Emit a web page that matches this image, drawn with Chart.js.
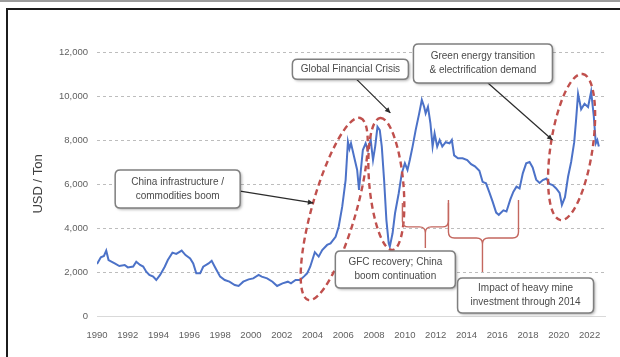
<!DOCTYPE html>
<html>
<head>
<meta charset="utf-8">
<script src="https://cdn.jsdelivr.net/npm/chart.js@4.4.1/dist/chart.umd.min.js"></script>
<style>
  html, body { margin: 0; padding: 0; background: #fff; }
  #wrap { position: relative; width: 620px; height: 357px; overflow: hidden; }
  #topRule { position: absolute; left: 0; top: 0; width: 620px; height: 2px; background: #9c9c9c; }
  #frame { position: absolute; left: 6px; top: 8px; width: 640px; height: 400px;
           border-left: 2px solid #1c1c1c; border-top: 2px solid #1c1c1c; }
  #priceChart { position: absolute; left: 0; top: 0; }
</style>
</head>
<body>
<div id="wrap">
  <div id="topRule"></div>
  <div id="frame"></div>
  <canvas id="priceChart" width="620" height="357"></canvas>
</div>
<script>
const xTickYears = [1990, 1992, 1994, 1996, 1998, 2000, 2002, 2004, 2006, 2008, 2010, 2012, 2014, 2016, 2018, 2020, 2022];
const yTickValues = [0, 2000, 4000, 6000, 8000, 10000, 12000];

// copper price, USD per ton
const priceYears = [
  1990.00, 1990.25, 1990.45, 1990.60, 1990.75, 1991.15, 1991.45, 1991.80, 1992.00, 1992.35,
  1992.55, 1992.80, 1993.00, 1993.20, 1993.40, 1993.65, 1993.85, 1994.10, 1994.40, 1994.60,
  1994.90, 1995.15, 1995.50, 1995.75, 1996.05, 1996.25, 1996.45, 1996.70, 1996.90, 1997.25,
  1997.45, 1997.65, 1998.00, 1998.30, 1998.60, 1998.95, 1999.20, 1999.50, 1999.85, 2000.15,
  2000.50, 2000.70, 2001.05, 2001.40, 2001.70, 2002.05, 2002.40, 2002.60, 2002.90, 2003.20,
  2003.45, 2003.65, 2003.85, 2004.15, 2004.40, 2004.63, 2004.95, 2005.17, 2005.50, 2005.70,
  2005.93, 2006.15, 2006.30, 2006.40, 2006.50, 2006.70, 2006.90, 2007.02, 2007.12, 2007.27,
  2007.45, 2007.60, 2007.78, 2007.93, 2008.07, 2008.22, 2008.37, 2008.50, 2008.65, 2008.80,
  2008.95, 2009.02, 2009.20, 2009.36, 2009.60, 2009.80, 2010.00, 2010.17, 2010.32, 2010.50,
  2010.70, 2010.93, 2011.10, 2011.25, 2011.35, 2011.50, 2011.66, 2011.80, 2011.93, 2012.10,
  2012.26, 2012.43, 2012.65, 2012.90, 2013.05, 2013.20, 2013.45, 2013.75, 2014.05, 2014.30,
  2014.55, 2014.84, 2015.05, 2015.27, 2015.50, 2015.70, 2015.93, 2016.10, 2016.40, 2016.60,
  2016.85, 2017.05, 2017.25, 2017.45, 2017.66, 2017.88, 2018.10, 2018.30, 2018.53, 2018.75,
  2018.96, 2019.20, 2019.40, 2019.60, 2019.83, 2020.05, 2020.20, 2020.40, 2020.60, 2020.80,
  2021.00, 2021.12, 2021.25, 2021.45, 2021.67, 2021.90, 2022.10, 2022.27, 2022.40, 2022.50,
  2022.60
];
const copperPrices = [
  2360, 2670, 2730, 2970, 2545, 2390, 2270, 2320, 2210, 2250,
  2470, 2320, 2250, 2015, 1865, 1790, 1635, 1865, 2240, 2545,
  2880, 2820, 2970, 2770, 2620, 2390, 1940, 1940, 2240, 2390,
  2510, 2240, 1790, 1635, 1560, 1410, 1365, 1560, 1665, 1710,
  1865, 1790, 1710, 1560, 1365, 1485, 1560, 1485, 1635, 1635,
  1800, 1940, 2240, 2900, 2700, 3000, 3230, 3300, 3600, 4060,
  4970, 6180, 7920, 7600, 7850, 7240, 6640, 5730, 6485, 7545,
  7850, 7545, 8000, 7090, 7700, 8600, 8450, 7700, 6180, 4360,
  3300, 3150, 3760, 4670, 5580, 6485, 6940, 6640, 7090, 7700,
  8450, 9210, 9820, 9510, 9210, 9510, 8760, 7700, 8300, 7700,
  8000, 7700, 7900, 7850, 8000, 7300, 7170, 7170, 7090, 6900,
  6800, 6600, 6100, 6030, 5600, 5200, 4700, 4600, 4800, 4750,
  5300, 5650, 5880, 5800, 6485, 6940, 7000, 6750, 6200, 6050,
  6180, 6250, 6000, 5950, 5800, 5600, 5050, 5400, 6330, 7000,
  7900, 8900, 10100, 9400, 9650, 9500, 10200, 9100, 7850, 8000,
  7700
];

// callout boxes: centre in [year, USD], size in px, optional arrow tip in [year, USD]
const calloutBoxes = [
  { lines: ['China infrastructure /', 'commodities boom'], at: [1995.24, 5770], w: 125, h: 38,
    from: 'right', tip: [2004.05, 5140] },
  { lines: ['Global Financial Crisis'], at: [2006.46, 11220], w: 116, h: 20,
    from: 'bottom', fromDx: 6, tip: [2009.06, 9230] },
  { lines: ['Green energy transition', '& electrification demand'], at: [2015.07, 11480], w: 139, h: 39,
    from: 'bottom', fromDx: 5, tip: [2019.59, 8000] },
  { lines: ['GFC recovery; China', 'boom continuation'], at: [2009.38, 2110], w: 120, h: 37 },
  { lines: ['Impact of heavy mine', 'investment through 2014'], at: [2017.84, 930], w: 136, h: 35 }
];

// dashed rings: both ends of the long axis in [year, USD], half width in px
const dashedRings = [
  { ends: [[2003.72, 730], [2007.10, 9000]], half: 22 },
  { ends: [[2009.19, 3000], [2008.40, 9000]], half: 17 },
  { ends: [[2020.11, 4360], [2021.55, 11000]], half: 21 }
];

// curly braces under the 2010-2017 stretch
const braces = [
  { from: 2009.84, to: 2012.83, top: 5140, mid: 4050, tipAt: 2011.33, tip: 3090 },
  { from: 2012.83, to: 2017.38, top: 5270, mid: 3545, tipAt: 2015.04, tip: 2000 }
];

const FONT = "'Liberation Sans', Arial, sans-serif";

function roundRect(ctx, x, y, w, h, r) {
  ctx.beginPath();
  ctx.moveTo(x + r, y);
  ctx.lineTo(x + w - r, y);
  ctx.quadraticCurveTo(x + w, y, x + w, y + r);
  ctx.lineTo(x + w, y + h - r);
  ctx.quadraticCurveTo(x + w, y + h, x + w - r, y + h);
  ctx.lineTo(x + r, y + h);
  ctx.quadraticCurveTo(x, y + h, x, y + h - r);
  ctx.lineTo(x, y + r);
  ctx.quadraticCurveTo(x, y, x + r, y);
  ctx.closePath();
}

const notesPlugin = {
  id: 'notes',
  afterDatasetsDraw(chart) {
    const { ctx, scales: { x, y } } = chart;
    const px = (p) => [x.getPixelForValue(p[0]), y.getPixelForValue(p[1])];

    ctx.save();

    // red dashed rings
    ctx.strokeStyle = '#c0504d';
    ctx.lineWidth = 2.4;
    ctx.setLineDash([6, 4]);
    dashedRings.forEach(r => {
      const [x1, y1] = px(r.ends[0]);
      const [x2, y2] = px(r.ends[1]);
      const len = Math.hypot(x2 - x1, y2 - y1) / 2;
      ctx.beginPath();
      ctx.ellipse((x1 + x2) / 2, (y1 + y2) / 2, len, r.half, Math.atan2(y2 - y1, x2 - x1), 0, Math.PI * 2);
      ctx.stroke();
    });
    ctx.setLineDash([]);

    // braces
    ctx.strokeStyle = '#c4675f';
    ctx.lineWidth = 1.4;
    braces.forEach(b => {
      const x0 = x.getPixelForValue(b.from), x1 = x.getPixelForValue(b.to);
      const xt = x.getPixelForValue(b.tipAt);
      const top0 = y.getPixelForValue(b.top), mid = y.getPixelForValue(b.mid);
      const tip = y.getPixelForValue(b.tip);
      const r = 6;
      ctx.beginPath();
      ctx.moveTo(x0, top0);
      ctx.lineTo(x0, mid - r);
      ctx.quadraticCurveTo(x0, mid, x0 + r, mid);
      ctx.lineTo(xt - r, mid);
      ctx.quadraticCurveTo(xt, mid, xt, mid + r);
      ctx.lineTo(xt, tip);
      ctx.moveTo(xt, mid + r);
      ctx.quadraticCurveTo(xt, mid, xt + r, mid);
      ctx.lineTo(x1 - r, mid);
      ctx.quadraticCurveTo(x1, mid, x1, mid - r);
      ctx.lineTo(x1, top0);
      ctx.stroke();
    });

    // arrows from the boxes
    ctx.strokeStyle = '#2b2b2b';
    ctx.fillStyle = '#2b2b2b';
    ctx.lineWidth = 1.2;
    calloutBoxes.filter(c => c.tip).forEach(c => {
      const [cx, cy] = px(c.at);
      let sx, sy;
      if (c.from === 'right') { sx = cx + c.w / 2; sy = cy + 2; }
      else { sx = cx + (c.fromDx || 0); sy = cy + c.h / 2; }
      const [tx, ty] = px(c.tip);
      ctx.beginPath();
      ctx.moveTo(sx, sy);
      ctx.lineTo(tx, ty);
      ctx.stroke();
      const a = Math.atan2(ty - sy, tx - sx);
      ctx.beginPath();
      ctx.moveTo(tx, ty);
      ctx.lineTo(tx - 6 * Math.cos(a - 0.45), ty - 6 * Math.sin(a - 0.45));
      ctx.lineTo(tx - 6 * Math.cos(a + 0.45), ty - 6 * Math.sin(a + 0.45));
      ctx.closePath();
      ctx.fill();
    });

    // boxes with text
    calloutBoxes.forEach(c => {
      const [cx, cy] = px(c.at);
      const bx = cx - c.w / 2, by = cy - c.h / 2;
      ctx.save();
      ctx.shadowColor = 'rgba(0,0,0,0.35)';
      ctx.shadowBlur = 3;
      ctx.shadowOffsetX = 1.5;
      ctx.shadowOffsetY = 1.5;
      roundRect(ctx, bx, by, c.w, c.h, 5);
      ctx.fillStyle = '#ffffff';
      ctx.fill();
      ctx.restore();
      roundRect(ctx, bx, by, c.w, c.h, 5);
      ctx.strokeStyle = '#7f7f7f';
      ctx.lineWidth = 1.5;
      ctx.stroke();

      ctx.fillStyle = '#4a4a4a';
      ctx.font = `10px ${FONT}`;
      ctx.textAlign = 'center';
      ctx.textBaseline = 'middle';
      const lh = 14;
      c.lines.forEach((t, i) => {
        ctx.fillText(t, cx, cy + (i - (c.lines.length - 1) / 2) * lh);
      });
    });

    ctx.restore();
  }
};

new Chart(document.getElementById('priceChart'), {
  type: 'line',
  data: {
    datasets: [{
      label: 'Copper',
      data: priceYears.map((yr, i) => ({ x: yr, y: copperPrices[i] })),
      borderColor: '#4c72c8',
      borderWidth: 2,
      pointRadius: 0,
      tension: 0,
      fill: false
    }]
  },
  options: {
    responsive: false,
    animation: false,
    events: [],
    layout: { padding: { top: 52, right: 15, left: 0, bottom: 0 } },
    plugins: {
      legend: { display: false },
      tooltip: { enabled: false }
    },
    scales: {
      x: {
        type: 'linear',
        min: 1990,
        max: 2023,
        afterBuildTicks: (s) => { s.ticks = xTickYears.map(v => ({ value: v })); },
        afterFit: (s) => { s.height = 41; },
        grid: { display: false, drawTicks: false },
        border: { display: true, color: '#d9d9d9', width: 1 },
        ticks: {
          padding: 14,
          autoSkip: false,
          maxRotation: 0,
          color: '#5f5f5f',
          font: { family: FONT, size: 9.5 },
          callback: (v) => String(v)
        }
      },
      y: {
        min: 0,
        max: 12000,
        afterBuildTicks: (s) => { s.ticks = yTickValues.map(v => ({ value: v })); },
        afterFit: (s) => { s.width = 97; },
        grid: { color: '#bdbdbd', lineWidth: 1, drawTicks: false },
        border: { display: false, dash: [3, 3] },
        ticks: {
          padding: 9,
          color: '#5f5f5f',
          font: { family: FONT, size: 9.5 },
          callback: (v) => v.toLocaleString('en-US')
        },
        title: {
          display: true,
          text: 'USD / Ton',
          color: '#404040',
          font: { family: FONT, size: 13 },
          padding: { top: 31, bottom: 0 }
        }
      }
    }
  },
  plugins: [notesPlugin]
});
</script>
</body>
</html>
